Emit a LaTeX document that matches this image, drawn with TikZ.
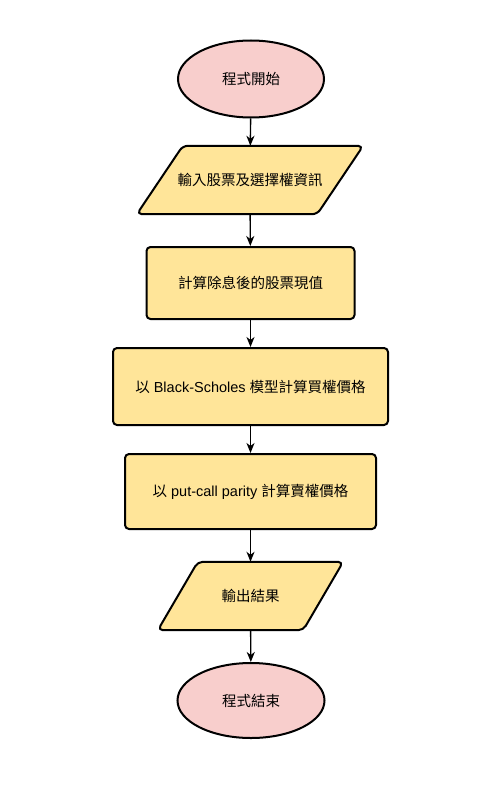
\documentclass[tikz,border=0pt]{standalone}
\usepackage{fontspec}
\setmainfont{Liberation Sans}
\newfontfamily\cjk{Noto Sans CJK TC}
\usetikzlibrary{shapes.geometric,arrows.meta,calc,backgrounds}
\definecolor{pinkfill}{HTML}{F8CECC}
\definecolor{yellowfill}{HTML}{FFE599}
\tikzset{
  base/.style={draw=black, line width=2pt, font=\fontsize{14.5}{16}\selectfont, text=black, inner sep=0pt, align=center},
  term/.style={base, ellipse, fill=pinkfill},
  proc/.style={base, rectangle, rounded corners=4pt, fill=yellowfill},
  iotext/.style={font=\fontsize{14.5}{16}\selectfont, text=black, inner sep=0pt, align=center, rectangle},
  ioshape/.style={draw=black, line width=2pt, fill=yellowfill, rounded corners=5pt, line join=round},
  conn/.style={line width=1.4pt, -{Stealth[length=10pt,width=8pt,inset=3pt]}}
}
\begin{document}
\begin{tikzpicture}[x=1pt,y=-1pt]
\useasboundingbox (0,0) rectangle (500,800);
\node[term, minimum width=146pt, minimum height=77pt] (start) at (251,79) {\cjk 程式開始};
\node[iotext, minimum width=226pt, minimum height=68pt] (input) at (250,180) {\cjk 輸入股票及選擇權資訊};
\node[proc, minimum width=208pt, minimum height=72pt] (div) at (250.5,283) {\cjk 計算除息後的股票現值};
\node[proc, minimum width=275pt, minimum height=77pt] (bs) at (250.5,386.5) {{\cjk 以} Black-Scholes {\cjk 模型計算買權價格}};
\node[proc, minimum width=251pt, minimum height=75pt] (pcp) at (250.5,491.5) {{\cjk 以} put-call parity {\cjk 計算賣權價格}};
\node[iotext, minimum width=185pt, minimum height=68pt] (out) at (250.5,596) {\cjk 輸出結果};
\node[term, minimum width=147pt, minimum height=75pt] (stop) at (251,700.5) {\cjk 程式結束};
\begin{scope}[on background layer]
\draw[ioshape] ($(input.north west)+(46,0)$) -- (input.north east) -- ($(input.south east)-(46,0)$) -- (input.south west) -- cycle;
\draw[ioshape] ($(out.north west)+(40,0)$) -- (out.north east) -- ($(out.south east)-(40,0)$) -- (out.south west) -- cycle;
\end{scope}
\draw[conn] (start) -- (input);
\draw[conn] (input) -- (div);
\draw[conn] (div) -- (bs);
\draw[conn] (bs) -- (pcp);
\draw[conn] (pcp) -- (out);
\draw[conn] (out) -- (stop);
\end{tikzpicture}
\end{document}
